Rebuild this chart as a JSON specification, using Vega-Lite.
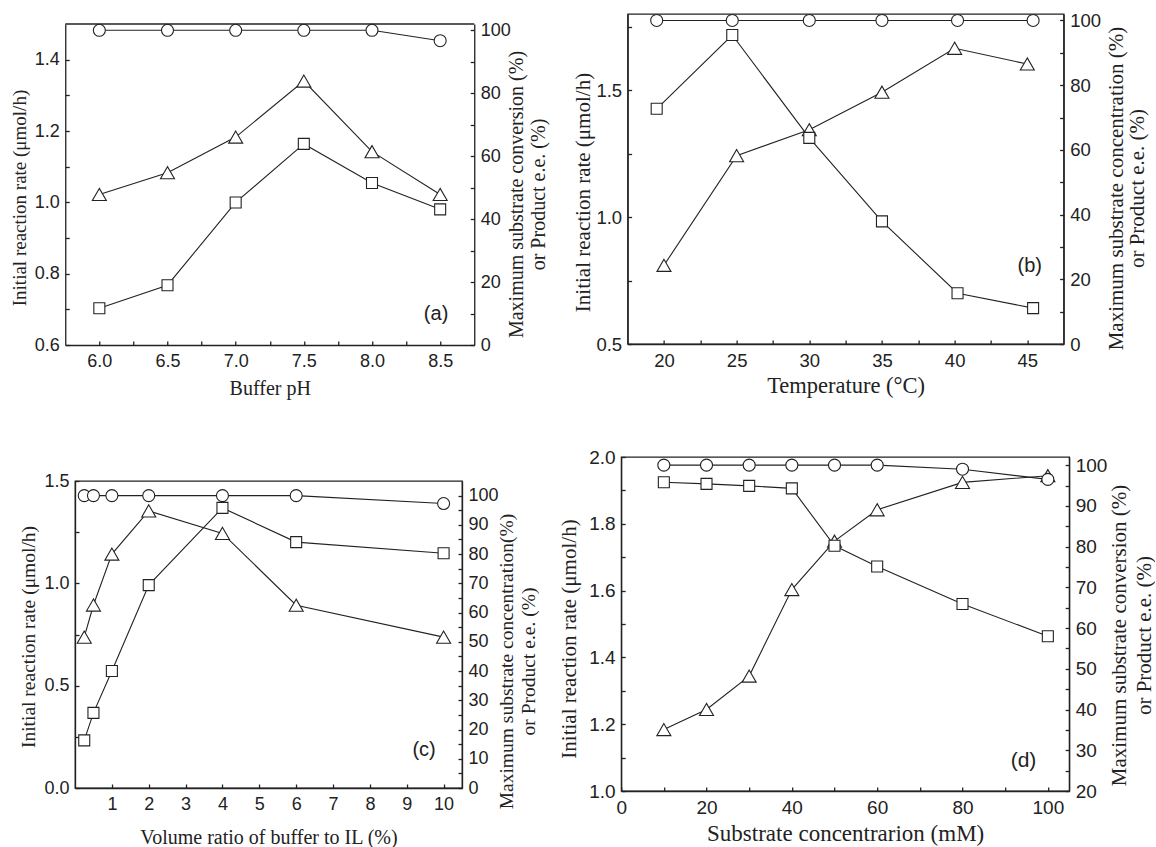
{
  "$schema": "https://vega.github.io/schema/vega-lite/v6.json",
  "background": "white",
  "padding": {"left": 10, "top": 10, "right": 0, "bottom": 0},
  "config": {
    "view": {"stroke": "#222", "strokeWidth": 1.3},
    "axis": {"domainColor": "#222", "domainWidth": 1.3, "tickColor": "#222", "tickWidth": 1.3, "tickSize": -4, "labelFont": "Liberation Sans", "labelFontSize": 18, "labelColor": "#222", "labelPadding": 10, "labelOverlap": false, "labelFlush": false, "titleFont": "Liberation Serif", "titleFontSize": 20, "titleFontWeight": "normal", "titleColor": "#222", "grid": false},
    "axisX": {"labelPadding": 11, "titlePadding": 8},
    "axisLeft": {"titleAngle": 270, "titleBaseline": "alphabetic", "titleAlign": "center"},
    "axisRight": {"titleAngle": 270, "titleBaseline": "alphabetic", "titleAlign": "center"}
  },
  "spacing": 8,
  "hconcat": [
    {
      "center": true,
      "spacing": 73,
      "vconcat": [
        {
          "width": 409, "height": 331,
          "view": {"stroke": null},
          "data": {"values": [
            {"x": 6.0, "s": "t", "y": 1.022}, {"x": 6.5, "s": "t", "y": 1.083}, {"x": 7.0, "s": "t", "y": 1.183}, {"x": 7.5, "s": "t", "y": 1.340}, {"x": 8.0, "s": "t", "y": 1.142}, {"x": 8.5, "s": "t", "y": 1.022},
            {"x": 6.0, "s": "sq", "y": 11.7}, {"x": 6.5, "s": "sq", "y": 19.0}, {"x": 7.0, "s": "sq", "y": 45.3}, {"x": 7.5, "s": "sq", "y": 63.9}, {"x": 8.0, "s": "sq", "y": 51.5}, {"x": 8.5, "s": "sq", "y": 43.1},
            {"x": 6.0, "s": "c", "y": 100}, {"x": 6.5, "s": "c", "y": 100}, {"x": 7.0, "s": "c", "y": 100}, {"x": 7.5, "s": "c", "y": 100}, {"x": 8.0, "s": "c", "y": 100}, {"x": 8.5, "s": "c", "y": 96.7}
          ]},
          "layer": [
            {
              "transform": [{"filter": "datum.s === 't'"}],
              "encoding": {
                "x": {"field": "x", "type": "quantitative", "scale": {"domain": [5.75, 8.75], "nice": false, "zero": false}, "axis": {"title": "Buffer pH", "values": [6, 6.25, 6.5, 6.75, 7, 7.25, 7.5, 7.75, 8, 8.25, 8.5], "labelExpr": "round(datum.value*2) === datum.value*2 ? format(datum.value, '.1f') : ''"}},
                "y": {"field": "y", "type": "quantitative", "scale": {"domain": [0.6, 1.5], "range": [331, 10], "nice": false, "zero": false}, "axis": {"orient": "left", "title": "Initial reaction rate (μmol/h)", "titleFontSize": 19, "titleX": -40, "titleY": 183.5, "values": [0.6, 0.7, 0.8, 0.9, 1.0, 1.1, 1.2, 1.3, 1.4], "labelExpr": "round(datum.value*10) % 2 === 0 ? format(datum.value, '.1f') : ''"}}
              },
              "layer": [
                {"mark": {"type": "line", "color": "#222", "strokeWidth": 1.1}},
                {"mark": {"type": "point", "shape": "triangle-up", "size": 196, "filled": true, "fill": "white", "stroke": "#222", "strokeWidth": 1.1, "opacity": 1}},
                {"data": {"values": [{"x": 8.47, "y": 0.687, "s": "t", "label": "(a)"}]}, "mark": {"type": "text", "font": "Liberation Sans", "fontSize": 20, "color": "#222"}, "encoding": {"text": {"field": "label"}}}
              ]
            },
            {
              "transform": [{"filter": "datum.s !== 't'"}],
              "encoding": {
                "x": {"field": "x", "type": "quantitative", "scale": {"domain": [5.75, 8.75], "nice": false, "zero": false}, "axis": {"title": "Buffer pH", "values": [6, 6.25, 6.5, 6.75, 7, 7.25, 7.5, 7.75, 8, 8.25, 8.5], "labelExpr": "round(datum.value*2) === datum.value*2 ? format(datum.value, '.1f') : ''"}},
                "y": {"field": "y", "type": "quantitative", "scale": {"domain": [0, 102], "range": [331, 10], "nice": false, "zero": false}, "axis": {"orient": "right", "title": ["Maximum substrate conversion (%)", "or Product e.e. (%)"], "titleX": 48.5, "titleY": 180, "titleLineHeight": 22, "values": [0, 10, 20, 30, 40, 50, 60, 70, 80, 90, 100], "labelExpr": "datum.value % 20 === 0 ? datum.label : ''"}}
              },
              "layer": [
                {"mark": {"type": "line", "color": "#222", "strokeWidth": 1.1}, "encoding": {"detail": {"field": "s"}}},
                {"transform": [{"filter": "datum.s === 'sq'"}], "mark": {"type": "point", "shape": "square", "size": 121, "filled": true, "fill": "white", "stroke": "#222", "strokeWidth": 1.1, "opacity": 1}},
                {"transform": [{"filter": "datum.s === 'c'"}], "mark": {"type": "point", "shape": "circle", "size": 144, "filled": true, "fill": "white", "stroke": "#222", "strokeWidth": 1.1, "opacity": 1}}
              ]
            },
            {
              "data": {"values": [{"top": 1.5}]},
              "mark": {"type": "rule", "color": "#222", "strokeWidth": 1.3},
              "encoding": {"y": {"field": "top", "type": "quantitative", "scale": {"domain": [0.6, 1.5], "range": [331, 10], "nice": false, "zero": false}, "axis": null}}
            }
          ],
          "resolve": {"scale": {"y": "independent"}, "axis": {"y": "independent"}}
        },
        {
          "width": 387, "height": 307,
          "data": {"values": [
            {"x": 0.25, "s": "t", "y": 0.737}, {"x": 0.5, "s": "t", "y": 0.894}, {"x": 1, "s": "t", "y": 1.143}, {"x": 2, "s": "t", "y": 1.354}, {"x": 4, "s": "t", "y": 1.244}, {"x": 6, "s": "t", "y": 0.893}, {"x": 10, "s": "t", "y": 0.737},
            {"x": 0.25, "s": "sq", "y": 16.3}, {"x": 0.5, "s": "sq", "y": 25.7}, {"x": 1, "s": "sq", "y": 40.0}, {"x": 2, "s": "sq", "y": 69.4}, {"x": 4, "s": "sq", "y": 95.8}, {"x": 6, "s": "sq", "y": 84.1}, {"x": 10, "s": "sq", "y": 80.3},
            {"x": 0.25, "s": "c", "y": 100}, {"x": 0.5, "s": "c", "y": 100}, {"x": 1, "s": "c", "y": 100}, {"x": 2, "s": "c", "y": 100}, {"x": 4, "s": "c", "y": 100}, {"x": 6, "s": "c", "y": 100}, {"x": 10, "s": "c", "y": 97.3}
          ]},
          "encoding": {"x": {"field": "x", "type": "quantitative", "scale": {"domain": [0, 10.5], "nice": false, "zero": false}, "axis": {"title": "Volume ratio of buffer to IL (%)", "titlePadding": 14, "values": [1, 2, 3, 4, 5, 6, 7, 8, 9, 10]}}},
          "layer": [
            {
              "transform": [{"filter": "datum.s === 't'"}],
              "encoding": {"y": {"field": "y", "type": "quantitative", "scale": {"domain": [0, 1.5], "nice": false, "zero": false}, "axis": {"orient": "left", "title": "Initial reaction rate (μmol/h)", "titleFontSize": 19.5, "titleX": -41, "titleY": 155.5, "values": [0, 0.25, 0.5, 0.75, 1.0, 1.25, 1.5], "labelExpr": "round(datum.value*4) % 2 === 0 ? format(datum.value, '.1f') : ''"}}},
              "layer": [
                {"mark": {"type": "line", "color": "#222", "strokeWidth": 1.1}},
                {"mark": {"type": "point", "shape": "triangle-up", "size": 196, "filled": true, "fill": "white", "stroke": "#222", "strokeWidth": 1.1, "opacity": 1}},
                {"data": {"values": [{"x": 9.47, "y": 0.187, "s": "t", "label": "(c)"}]}, "mark": {"type": "text", "font": "Liberation Sans", "fontSize": 20, "color": "#222"}, "encoding": {"text": {"field": "label"}}}
              ]
            },
            {
              "transform": [{"filter": "datum.s !== 't'"}],
              "encoding": {"y": {"field": "y", "type": "quantitative", "scale": {"domain": [0, 105], "nice": false, "zero": false}, "axis": {"orient": "right", "title": ["Maximum substrate concentration(%)", "or Product e.e. (%)"], "titleFontSize": 19.5, "titleX": 50.3, "titleY": 180, "titleLineHeight": 22.5, "values": [0, 5, 10, 15, 20, 25, 30, 35, 40, 45, 50, 55, 60, 65, 70, 75, 80, 85, 90, 95, 100], "labelExpr": "datum.value % 10 === 0 ? datum.label : ''"}}},
              "layer": [
                {"mark": {"type": "line", "color": "#222", "strokeWidth": 1.1}, "encoding": {"detail": {"field": "s"}}},
                {"transform": [{"filter": "datum.s === 'sq'"}], "mark": {"type": "point", "shape": "square", "size": 121, "filled": true, "fill": "white", "stroke": "#222", "strokeWidth": 1.1, "opacity": 1}},
                {"transform": [{"filter": "datum.s === 'c'"}], "mark": {"type": "point", "shape": "circle", "size": 144, "filled": true, "fill": "white", "stroke": "#222", "strokeWidth": 1.1, "opacity": 1}}
              ]
            }
          ],
          "resolve": {"scale": {"y": "independent"}, "axis": {"y": "independent"}}
        }
      ]
    },
    {
      "center": true,
      "spacing": 49,
      "vconcat": [
        {
          "width": 436, "height": 330,
          "data": {"values": [
            {"x": 20, "s": "t", "y": 0.810}, {"x": 25, "s": "t", "y": 1.242}, {"x": 30, "s": "t", "y": 1.344}, {"x": 35, "s": "t", "y": 1.492}, {"x": 40, "s": "t", "y": 1.665}, {"x": 45, "s": "t", "y": 1.603},
            {"x": 19.5, "s": "sq", "y": 72.7}, {"x": 24.7, "s": "sq", "y": 95.5}, {"x": 30, "s": "sq", "y": 63.7}, {"x": 35, "s": "sq", "y": 37.9}, {"x": 40.2, "s": "sq", "y": 15.7}, {"x": 45.4, "s": "sq", "y": 11.1},
            {"x": 19.5, "s": "c", "y": 100}, {"x": 24.7, "s": "c", "y": 100}, {"x": 30, "s": "c", "y": 100}, {"x": 35, "s": "c", "y": 100}, {"x": 40.2, "s": "c", "y": 100}, {"x": 45.4, "s": "c", "y": 100}
          ]},
          "encoding": {"x": {"field": "x", "type": "quantitative", "scale": {"domain": [17.5, 47.5], "nice": false, "zero": false}, "axis": {"title": "Temperature (°C)", "titleFontSize": 22.5, "labelFontSize": 18.5, "titlePadding": 5, "values": [20, 22.5, 25, 27.5, 30, 32.5, 35, 37.5, 40, 42.5, 45], "labelExpr": "datum.value % 5 === 0 ? format(datum.value, 'd') : ''"}}},
          "layer": [
            {
              "transform": [{"filter": "datum.s === 't'"}],
              "encoding": {"y": {"field": "y", "type": "quantitative", "scale": {"domain": [0.5, 1.8], "nice": false, "zero": false}, "axis": {"orient": "left", "title": "Initial reaction rate (μmol/h)", "titleFontSize": 21, "labelFontSize": 18.5, "titleX": -38, "titleY": 178, "values": [0.5, 0.75, 1.0, 1.25, 1.5, 1.75], "labelExpr": "round(datum.value*4) % 2 === 0 ? format(datum.value, '.1f') : ''"}}},
              "layer": [
                {"mark": {"type": "line", "color": "#222", "strokeWidth": 1.1}},
                {"mark": {"type": "point", "shape": "triangle-up", "size": 196, "filled": true, "fill": "white", "stroke": "#222", "strokeWidth": 1.1, "opacity": 1}},
                {"data": {"values": [{"x": 45.17, "y": 0.807, "s": "t", "label": "(b)"}]}, "mark": {"type": "text", "font": "Liberation Sans", "fontSize": 20, "color": "#222"}, "encoding": {"text": {"field": "label"}}}
              ]
            },
            {
              "transform": [{"filter": "datum.s !== 't'"}],
              "encoding": {"y": {"field": "y", "type": "quantitative", "scale": {"domain": [0, 102], "nice": false, "zero": false}, "axis": {"orient": "right", "title": ["Maximum substrate concentration (%)", "or Product e.e. (%)"], "titleFontSize": 21, "labelFontSize": 18.5, "titleX": 58.6, "titleY": 174, "titleLineHeight": 21.5, "values": [0, 10, 20, 30, 40, 50, 60, 70, 80, 90, 100], "labelExpr": "datum.value % 20 === 0 ? datum.label : ''"}}},
              "layer": [
                {"mark": {"type": "line", "color": "#222", "strokeWidth": 1.1}, "encoding": {"detail": {"field": "s"}}},
                {"transform": [{"filter": "datum.s === 'sq'"}], "mark": {"type": "point", "shape": "square", "size": 121, "filled": true, "fill": "white", "stroke": "#222", "strokeWidth": 1.1, "opacity": 1}},
                {"transform": [{"filter": "datum.s === 'c'"}], "mark": {"type": "point", "shape": "circle", "size": 144, "filled": true, "fill": "white", "stroke": "#222", "strokeWidth": 1.1, "opacity": 1}}
              ]
            }
          ],
          "resolve": {"scale": {"y": "independent"}, "axis": {"y": "independent"}}
        },
        {
          "width": 448, "height": 334,
          "data": {"values": [
            {"x": 10, "s": "t", "y": 1.184}, {"x": 20, "s": "t", "y": 1.244}, {"x": 30, "s": "t", "y": 1.344}, {"x": 40, "s": "t", "y": 1.603}, {"x": 50, "s": "t", "y": 1.748}, {"x": 60, "s": "t", "y": 1.842}, {"x": 80, "s": "t", "y": 1.924}, {"x": 100, "s": "t", "y": 1.944},
            {"x": 10, "s": "sq", "y": 95.8}, {"x": 20, "s": "sq", "y": 95.4}, {"x": 30, "s": "sq", "y": 94.9}, {"x": 40, "s": "sq", "y": 94.3}, {"x": 50, "s": "sq", "y": 80.2}, {"x": 60, "s": "sq", "y": 75.1}, {"x": 80, "s": "sq", "y": 65.9}, {"x": 100, "s": "sq", "y": 58.0},
            {"x": 10, "s": "c", "y": 100}, {"x": 20, "s": "c", "y": 100}, {"x": 30, "s": "c", "y": 100}, {"x": 40, "s": "c", "y": 100}, {"x": 50, "s": "c", "y": 100}, {"x": 60, "s": "c", "y": 100}, {"x": 80, "s": "c", "y": 99.0}, {"x": 100, "s": "c", "y": 96.5}
          ]},
          "encoding": {"x": {"field": "x", "type": "quantitative", "scale": {"domain": [0, 105], "nice": false, "zero": false}, "axis": {"title": "Substrate concentrarion (mM)", "titleFontSize": 23, "titlePadding": 5, "labelFontSize": 19, "values": [0, 10, 20, 30, 40, 50, 60, 70, 80, 90, 100], "labelExpr": "datum.value % 20 === 0 ? datum.label : ''"}}},
          "layer": [
            {
              "transform": [{"filter": "datum.s === 't'"}],
              "encoding": {"y": {"field": "y", "type": "quantitative", "scale": {"domain": [1.0, 2.0], "nice": false, "zero": false}, "axis": {"orient": "left", "title": "Initial reaction rate (μmol/h)", "titleFontSize": 21, "labelFontSize": 19, "titleX": -46, "titleY": 181.5, "values": [1.0, 1.1, 1.2, 1.3, 1.4, 1.5, 1.6, 1.7, 1.8, 1.9, 2.0], "labelExpr": "round(datum.value*10) % 2 === 0 ? format(datum.value, '.1f') : ''"}}},
              "layer": [
                {"mark": {"type": "line", "color": "#222", "strokeWidth": 1.1}},
                {"mark": {"type": "point", "shape": "triangle-up", "size": 196, "filled": true, "fill": "white", "stroke": "#222", "strokeWidth": 1.1, "opacity": 1}},
                {"data": {"values": [{"x": 94.3, "y": 1.09, "s": "t", "label": "(d)"}]}, "mark": {"type": "text", "font": "Liberation Sans", "fontSize": 21, "color": "#222"}, "encoding": {"text": {"field": "label"}}}
              ]
            },
            {
              "transform": [{"filter": "datum.s !== 't'"}],
              "encoding": {"y": {"field": "y", "type": "quantitative", "scale": {"domain": [20, 102], "nice": false, "zero": false}, "axis": {"orient": "right", "title": ["Maximum substrate conversion (%)", "or Product e.e.  (%)"], "titleFontSize": 21, "labelFontSize": 19, "titleX": 56, "titleY": 178, "titleLineHeight": 25, "values": [20, 25, 30, 35, 40, 45, 50, 55, 60, 65, 70, 75, 80, 85, 90, 95, 100], "labelExpr": "datum.value % 10 === 0 ? datum.label : ''"}}},
              "layer": [
                {"mark": {"type": "line", "color": "#222", "strokeWidth": 1.1}, "encoding": {"detail": {"field": "s"}}},
                {"transform": [{"filter": "datum.s === 'sq'"}], "mark": {"type": "point", "shape": "square", "size": 121, "filled": true, "fill": "white", "stroke": "#222", "strokeWidth": 1.1, "opacity": 1}},
                {"transform": [{"filter": "datum.s === 'c'"}], "mark": {"type": "point", "shape": "circle", "size": 144, "filled": true, "fill": "white", "stroke": "#222", "strokeWidth": 1.1, "opacity": 1}}
              ]
            }
          ],
          "resolve": {"scale": {"y": "independent"}, "axis": {"y": "independent"}}
        }
      ]
    }
  ]
}
